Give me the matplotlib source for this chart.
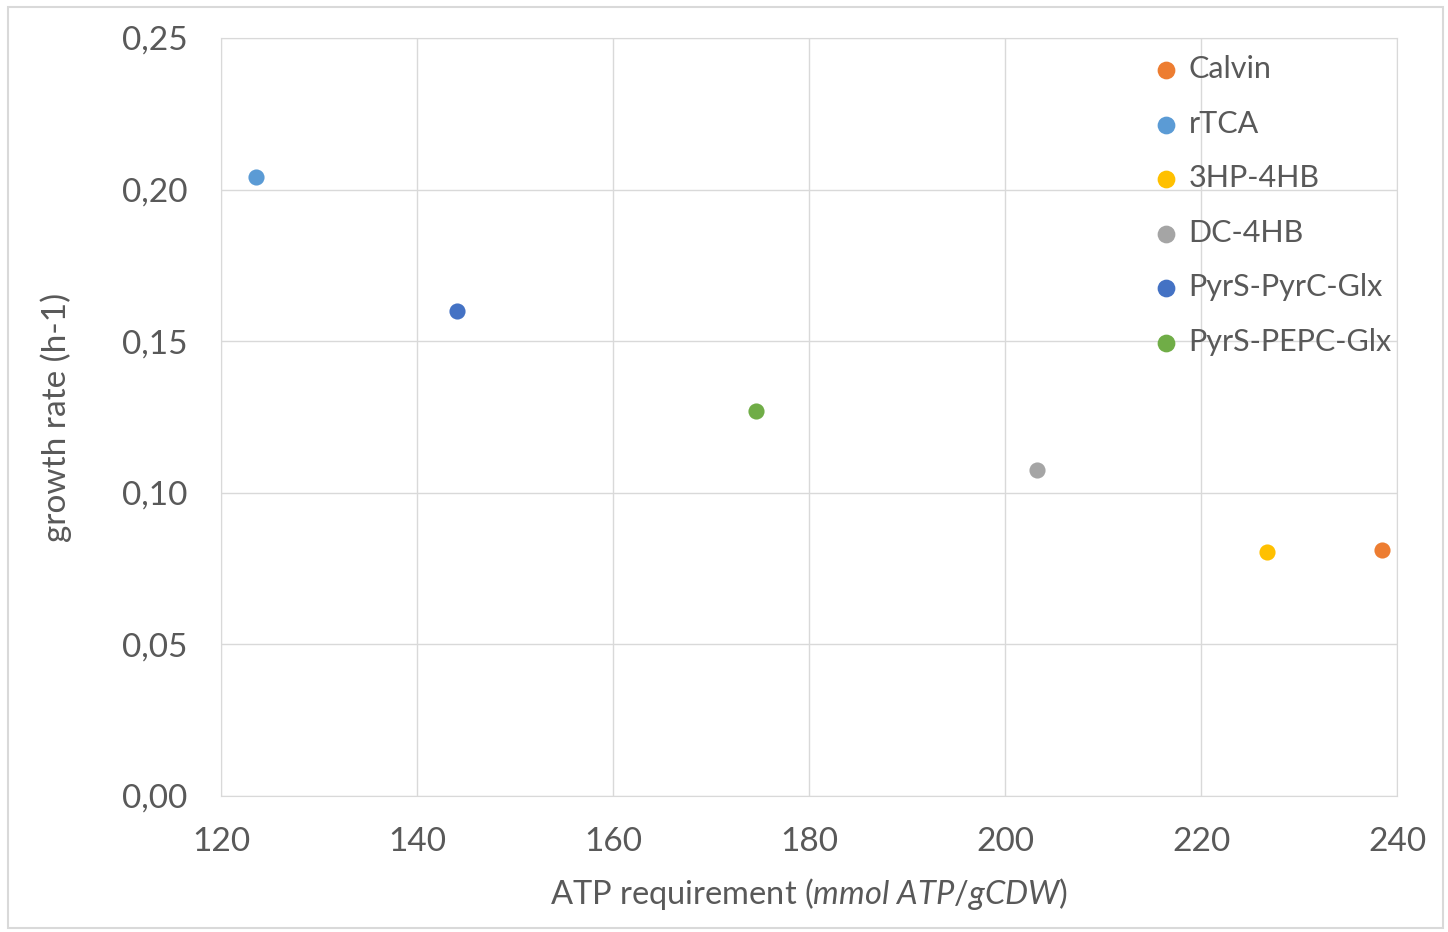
import matplotlib.pyplot as plt
from matplotlib.patches import Rectangle

# pathway data
pathways = ['Calvin', 'rTCA', '3HP-4HB', 'DC-4HB', 'PyrS-PyrC-Glx', 'PyrS-PEPC-Glx']
atp_req = [238.5, 123.6, 226.7, 203.3, 144.1, 174.6]
growth = [0.081, 0.204, 0.0805, 0.1075, 0.160, 0.127]
colors = ['#ED7D31', '#5B9BD5', '#FFC000', '#A5A5A5', '#4472C4', '#70AD47']

xticks = [120, 140, 160, 180, 200, 220, 240]
yticks = [0.0, 0.05, 0.10, 0.15, 0.20, 0.25]

plt.rcParams['font.family'] = ['Lato', 'DejaVu Sans']
plt.rcParams['mathtext.fontset'] = 'custom'
plt.rcParams['mathtext.rm'] = 'Lato'
plt.rcParams['mathtext.it'] = 'Lato:italic'
text_col = '#595959'
grid_col = '#d9d9d9'

fig = plt.figure(figsize=(14.48, 9.32), dpi=100)
ax = fig.add_axes([221/1448, 1 - 796/932, (1397-221)/1448, (796-38)/932])

for name, x, y, c in zip(pathways, atp_req, growth, colors):
    ax.scatter(x, y, s=135, color=c, label=name, zorder=3, linewidths=0)

ax.set_xlim(120, 240)
ax.set_ylim(0, 0.25)
ax.set_xticks(xticks)
ax.set_yticks(yticks)
ax.set_yticklabels([f'{v:.2f}'.replace('.', ',') for v in yticks])
ax.tick_params(length=0, labelsize=24, labelcolor=text_col)
ax.tick_params(axis='y', pad=24)
ax.tick_params(axis='x', pad=22)
ax.grid(True, color=grid_col, linewidth=1)
for s in ax.spines.values():
    s.set_color(grid_col)

ax.set_xlabel(r'ATP requirement ($\mathit{mmol\ ATP/gCDW}$)', fontsize=23.5, color=text_col, labelpad=14)
ax.set_ylabel('growth rate (h-1)', fontsize=24, color=text_col, labelpad=36)

leg = ax.legend(loc='upper left', bbox_to_anchor=(1152/1448, 1 - 55/932),
                bbox_transform=fig.transFigure, frameon=False, fontsize=22,
                handlelength=0.9, handletextpad=0.3, labelspacing=0.87,
                borderaxespad=0, borderpad=0, markerscale=1.1)
for t in leg.get_texts():
    t.set_color(text_col)

# outer chart border
fig.patches.append(Rectangle((8/1448, 4/932), 1435/1448, 921/932, transform=fig.transFigure,
                             fill=False, edgecolor=grid_col, linewidth=1.5))

fig.savefig('out.png', dpi=100)
